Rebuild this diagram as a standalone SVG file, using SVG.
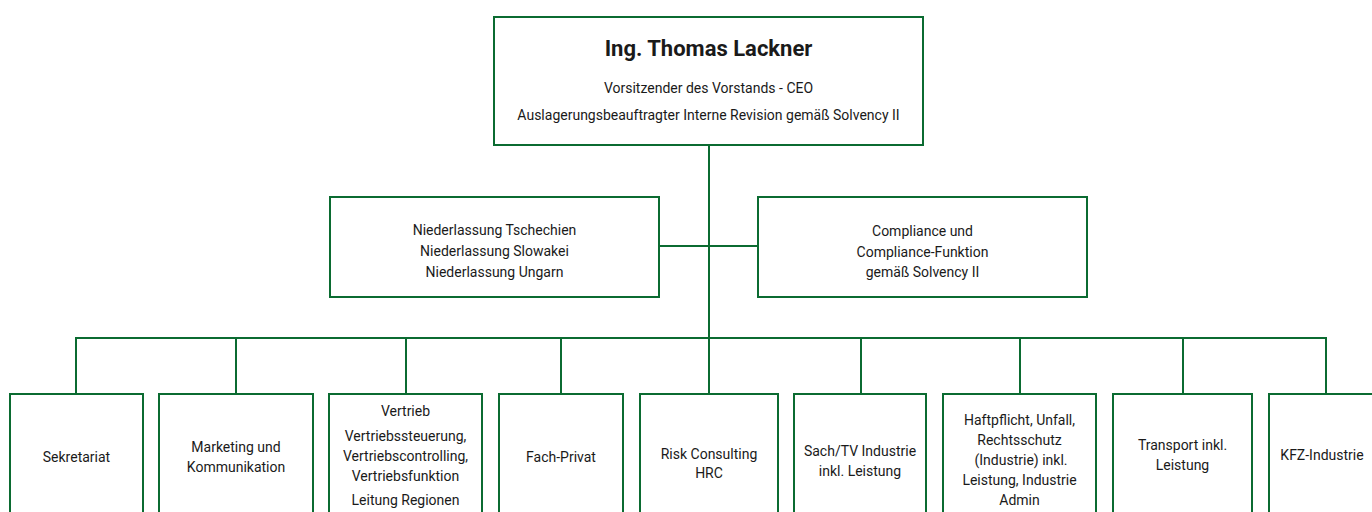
<svg xmlns="http://www.w3.org/2000/svg" width="1372" height="512" viewBox="0 0 1372 512">
<style>
.box{fill:#fff;stroke:#0b6b31;stroke-width:2}
.ln{stroke:#0b6b31;stroke-width:2;fill:none}
text{font-family:Roboto,"Noto Sans","Liberation Sans",sans-serif;font-size:14px;fill:#1a1a1a;text-anchor:middle}
.t{font-size:22px;font-weight:bold}
</style>
<rect width="1372" height="512" fill="#fff"/>
<g id="connectors">
<path class="ln" d="M709 145V338"/>
<path class="ln" d="M659 246H758"/>
<path class="ln" d="M76 394V338H1326V394"/>
<path class="ln" d="M236 338V394M406 338V394M561 338V394M709 338V394M861 338V394M1020 338V394M1183 338V394"/>
</g>
<g id="ceo"><rect class="box" x="494" y="17" width="429" height="128"/>
<text class="t" x="708.5" y="56">Ing. Thomas Lackner</text>
<text x="708.5" y="93">Vorsitzender des Vorstands - CEO</text>
<text x="708.5" y="120">Auslagerungsbeauftragter Interne Revision gemäß Solvency II</text></g>
<g id="niederlassung"><rect class="box" x="330" y="197" width="329" height="100"/>
<text x="494.5" y="235">Niederlassung Tschechien</text>
<text x="494.5" y="256">Niederlassung Slowakei</text>
<text x="494.5" y="277">Niederlassung Ungarn</text></g>
<g id="compliance"><rect class="box" x="758" y="197" width="329" height="100"/>
<text x="922.5" y="236">Compliance und</text>
<text x="922.5" y="257">Compliance-Funktion</text>
<text x="922.5" y="277">gemäß Solvency II</text></g>
<g id="sekretariat"><rect class="box" x="10" y="394" width="133" height="140"/>
<text x="76.5" y="462">Sekretariat</text></g>
<g id="marketing"><rect class="box" x="159" y="394" width="154" height="140"/>
<text x="236" y="452">Marketing und</text>
<text x="236" y="472">Kommunikation</text></g>
<g id="vertrieb"><rect class="box" x="329" y="394" width="153" height="140"/>
<text x="405.5" y="416">Vertrieb</text>
<text x="405.5" y="441">Vertriebssteuerung,</text>
<text x="405.5" y="461">Vertriebscontrolling,</text>
<text x="405.5" y="481">Vertriebsfunktion</text>
<text x="405.5" y="505">Leitung Regionen</text></g>
<g id="fachprivat"><rect class="box" x="499" y="394" width="124" height="140"/>
<text x="561" y="462">Fach-Privat</text></g>
<g id="risk"><rect class="box" x="640" y="394" width="138" height="140"/>
<text x="709" y="459">Risk Consulting</text>
<text x="709" y="478">HRC</text></g>
<g id="sach"><rect class="box" x="794" y="394" width="132" height="140"/>
<text x="860" y="456">Sach/TV Industrie</text>
<text x="860" y="476">inkl. Leistung</text></g>
<g id="haftpflicht"><rect class="box" x="943" y="394" width="153" height="140"/>
<text x="1019.5" y="425">Haftpflicht, Unfall,</text>
<text x="1019.5" y="445">Rechtsschutz</text>
<text x="1021" y="465">(Industrie) inkl.</text>
<text x="1019.5" y="485">Leistung, Industrie</text>
<text x="1019.5" y="505">Admin</text></g>
<g id="transport"><rect class="box" x="1113" y="394" width="139" height="140"/>
<text x="1182.5" y="450">Transport inkl.</text>
<text x="1182.5" y="470">Leistung</text></g>
<g id="kfz"><rect class="box" x="1269" y="394" width="114" height="140"/>
<text x="1322" y="460">KFZ-Industrie</text></g>
</svg>
